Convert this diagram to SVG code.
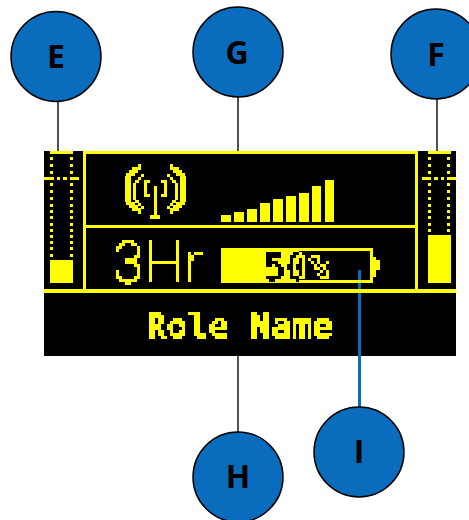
<svg xmlns="http://www.w3.org/2000/svg" xmlns:xlink="http://www.w3.org/1999/xlink" width="469" height="520" viewBox="0 0 469 520">
<style>
.y{fill:#ffff00}
.node circle{fill:#0a6cbc;stroke:#000;stroke-width:1.5}
.node text{font-family:"Open Sans","Liberation Sans",sans-serif;font-weight:700;font-size:32px;fill:#000;text-anchor:middle}
.wire{stroke:#1a1a1a;stroke-width:1.5;fill:none}
.mono{font-family:"DejaVu Sans Mono","Liberation Mono",monospace}
</style>
<defs>
<filter id="px" filterUnits="userSpaceOnUse" primitiveUnits="userSpaceOnUse" x="98" y="234" width="300" height="120" color-interpolation-filters="sRGB">
<feFlood x="99" y="235" width="1" height="1" flood-color="#fff"/>
<feComposite x="98" y="234" width="3" height="3"/>
<feTile x="98" y="234" width="300" height="120" result="t"/>
<feComposite in="SourceGraphic" in2="t" operator="in"/>
<feMorphology operator="dilate" radius="1"/>
<feComponentTransfer><feFuncA type="discrete" tableValues="0 1 1 1"/></feComponentTransfer>
</filter>
<clipPath id="onFill"><rect x="221" y="248" width="78" height="35"/></clipPath>
<clipPath id="offFill"><rect x="299" y="248" width="74" height="35"/></clipPath>
<g id="arcs">
<rect x="138" y="164" width="3" height="3"/><rect x="132" y="167" width="9" height="3"/><rect x="129" y="170" width="9" height="3"/><rect x="126" y="173" width="9" height="3"/><rect x="125" y="176" width="6" height="26"/><rect x="126" y="202" width="9" height="3"/><rect x="129" y="205" width="9" height="3"/><rect x="132" y="208" width="9" height="3"/><rect x="138" y="211" width="3" height="3"/>
<rect x="141" y="174" width="3" height="3"/><rect x="138" y="177" width="3" height="3"/><rect x="135" y="180" width="4" height="3"/><rect x="133" y="183" width="3" height="17"/><rect x="135" y="200" width="4" height="3"/><rect x="138" y="203" width="3" height="3"/><rect x="141" y="206" width="3" height="3"/>
<rect x="144" y="180" width="6" height="3"/><rect x="144" y="180" width="3" height="17"/><rect x="144" y="194" width="6" height="3"/>
</g>
<g id="gauge">
<rect x="0" y="157" width="3" height="3"/><rect x="0" y="164" width="3" height="3"/><rect x="0" y="171" width="3" height="3"/><rect x="0" y="183" width="3" height="3"/><rect x="0" y="190" width="3" height="3"/><rect x="0" y="197" width="3" height="3"/><rect x="0" y="204" width="3" height="3"/><rect x="0" y="210" width="3" height="3"/><rect x="0" y="216" width="3" height="3"/><rect x="0" y="223" width="3" height="3"/><rect x="0" y="229" width="3" height="3"/>
</g>
<g id="gaugeLow">
<rect x="0" y="235" width="3" height="3"/><rect x="0" y="241" width="3" height="3"/><rect x="0" y="247" width="3" height="3"/><rect x="0" y="254" width="3" height="3"/>
</g>
</defs>
<rect x="44" y="151" width="412" height="205" fill="#000"/>
<g id="connectors">
<path class="wire" d="M58 100V151M238 97V151M437 99V151M238 356V432"/>
<path d="M359.5 270V407" fill="none" stroke="#0a6cbc" stroke-width="3"/>
</g>
<g id="display" class="y">
<rect x="83" y="151" width="333" height="3"/>
<rect x="83" y="151" width="3" height="138"/>
<rect x="415" y="151" width="3" height="138"/>
<rect x="86" y="225" width="329" height="3"/>
<rect x="44" y="289" width="412" height="4"/>
<g id="gauge-left">
<rect x="50" y="151" width="23" height="3"/>
<use xlink:href="#gauge" x="50"/><use xlink:href="#gauge" x="70"/>
<use xlink:href="#gaugeLow" x="50"/><use xlink:href="#gaugeLow" x="70"/>
<rect x="44" y="177" width="10" height="3"/><rect x="57" y="177" width="3" height="3"/><rect x="63" y="177" width="4" height="3"/><rect x="70" y="177" width="9" height="3"/>
<rect x="50" y="260" width="23" height="23"/>
</g>
<g id="gauge-right">
<rect x="428" y="151" width="23" height="3"/>
<use xlink:href="#gauge" x="428"/><use xlink:href="#gauge" x="447"/>
<rect x="422" y="177" width="9" height="3"/><rect x="434" y="177" width="4" height="3"/><rect x="441" y="177" width="3" height="3"/><rect x="447" y="177" width="9" height="3"/>
<rect x="428" y="235" width="23" height="48"/>
</g>
<g id="antenna">
<use xlink:href="#arcs"/>
<use xlink:href="#arcs" transform="matrix(-1 0 0 1 311 0)"/>
<rect x="154" y="186" width="3" height="29"/><rect x="150" y="215" width="10" height="4"/>
</g>
<g id="signal">
<rect x="221" y="215" width="10" height="7"/><rect x="234" y="212" width="10" height="10"/><rect x="247" y="209" width="10" height="13"/><rect x="260" y="203" width="10" height="19"/><rect x="273" y="199" width="10" height="23"/><rect x="286" y="196" width="10" height="26"/><rect x="299" y="193" width="10" height="29"/><rect x="312" y="186" width="9" height="36"/><rect x="325" y="180" width="9" height="42"/>
</g>
<g id="battery">
<path fill-rule="evenodd" d="M221 248H373V283H221ZM299 251V280H370V251Z"/>
<rect x="373" y="257" width="3" height="20"/><rect x="376" y="260" width="4" height="10"/>
</g>
</g>
<text class="y" font-family="Roboto,'Liberation Sans',sans-serif" font-weight="300" font-size="59" x="113" y="283" textLength="90" lengthAdjust="spacingAndGlyphs" filter="url(#px)">3Hr</text>
<g clip-path="url(#onFill)"><text class="mono" fill="#000" font-size="37" x="264" y="280" filter="url(#px)">50%</text></g>
<g clip-path="url(#offFill)"><text class="mono y" font-size="37" x="264" y="280" filter="url(#px)">50%</text></g>
<text class="mono y" font-weight="700" font-size="35" x="146" y="338" textLength="187" lengthAdjust="spacingAndGlyphs" filter="url(#px)">Role Name</text>
<g id="node-E" class="node"><circle cx="56" cy="56.5" r="45"/><text x="56" y="68">E</text></g>
<g id="node-G" class="node"><circle cx="238" cy="52" r="45"/><text x="237" y="64">G</text></g>
<g id="node-F" class="node"><circle cx="436" cy="54" r="45"/><text x="436" y="66">F</text></g>
<g id="node-H" class="node"><circle cx="238" cy="477" r="45"/><text x="238" y="488">H</text></g>
<g id="node-I" class="node"><circle cx="359" cy="452" r="45"/><text x="359" y="463">I</text></g>
</svg>
